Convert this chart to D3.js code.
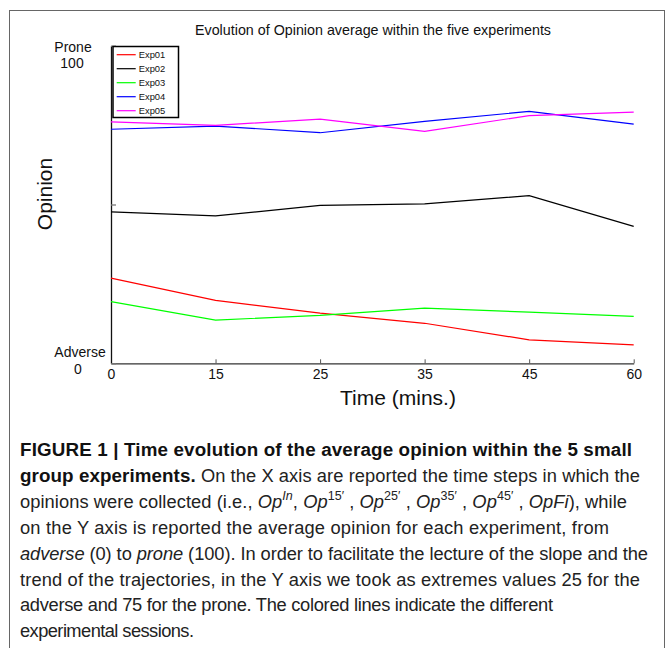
<!DOCTYPE html>
<html><head><meta charset="utf-8">
<script src="https://cdn.jsdelivr.net/npm/d3@7"></script>
<style>body{margin:0;background:#fff} svg{display:block}</style>
</head><body><svg id="c" width="667" height="648"></svg>
<script>
// ---- data ----
const times = ["0","15","25","35","45","60"];
const seriesNames = ["Exp01","Exp02","Exp03","Exp04","Exp05"];
const exp01 = [26.8,19.8,15.8,12.6,7.4,5.8];
const exp02 = [47.7,46.4,49.7,50.2,52.8,43.1];
const exp03 = [19.4,13.6,15.1,17.4,16.1,14.8];
const exp04 = [73.7,74.7,72.6,76.2,79.3,75.3];
const exp05 = [76.0,74.9,76.9,73.0,78.0,79.1];
const yTicks = [0,50,100];
const yTickWords = ["Adverse","","Prone"];
const yTickNums = ["0","","100"];
const seriesColors = ["#ff0000","#000000","#00ff00","#0000ff","#ff00ff"];

const allSeries = [exp01,exp02,exp03,exp04,exp05].map((v,i)=>({name:seriesNames[i],values:v,color:seriesColors[i]}));

const svg = d3.select("#c");
const FONT = "'Liberation Sans', Arial, Helvetica, sans-serif";

// outer frame
svg.append("rect").attr("x",9.5).attr("y",10.5).attr("width",655).attr("height",700)
  .attr("fill","none").attr("stroke","#666").attr("stroke-width",1);

const x = d3.scalePoint().domain(times).range([111, 633.7]);
const y = d3.scaleLinear().domain([0,100]).range([363.3, 45.7]);

// title
svg.append("text").attr("x",373).attr("y",35).attr("text-anchor","middle")
  .attr("font-family",FONT).attr("font-size",14.3).attr("fill","#111")
  .text("Evolution of Opinion average within the five experiments");

// x axis
const gx = svg.append("g").attr("transform",`translate(0,${y(0)})`)
  .call(d3.axisBottom(x).tickSizeInner(-4).tickSizeOuter(0).tickPadding(6));
gx.select(".domain").attr("stroke","#333").attr("stroke-width",1.3);
gx.selectAll(".tick line").attr("stroke","#555");
gx.selectAll(".tick text").attr("font-family",FONT).attr("font-size",14).attr("fill","#111");

// y axis
const gy = svg.append("g").attr("transform",`translate(${x("0")},0)`)
  .call(d3.axisLeft(y).tickValues(yTicks).tickSizeInner(-5).tickSizeOuter(0).tickFormat(""));
gy.select(".domain").attr("stroke","#111").attr("stroke-width",1.3);
gy.selectAll(".tick line").attr("stroke","#777").attr("stroke-width",1.3);

// y tick labels (word + number)
yTicks.forEach((t,i)=>{
  if(!yTickWords[i]) return;
  const top = t===100;
  svg.append("text").attr("x", top?73:80).attr("y", top? y(t)+6 : y(t)-6)
    .attr("text-anchor","middle").attr("font-family",FONT).attr("font-size",14).attr("fill","#111")
    .text(yTickWords[i]);
  svg.append("text").attr("x", top?72:78).attr("y", top? y(t)+22 : y(t)+11)
    .attr("text-anchor","middle").attr("font-family",FONT).attr("font-size",14).attr("fill","#111")
    .text(yTickNums[i]);
});

// axis titles
svg.append("text").attr("transform","translate(52,194) rotate(-90)").attr("text-anchor","middle")
  .attr("font-family",FONT).attr("font-size",21).attr("fill","#111").text("Opinion");
svg.append("text").attr("x",398).attr("y",405).attr("text-anchor","middle")
  .attr("font-family",FONT).attr("font-size",21).attr("fill","#111").text("Time (mins.)");

// lines
const line = d3.line().x((d,i)=>x(times[i])).y(d=>y(d));
svg.append("g").selectAll("path").data(allSeries).join("path")
  .attr("d",d=>line(d.values)).attr("fill","none").attr("stroke",d=>d.color).attr("stroke-width",1.2);

// legend
const lg = svg.append("g");
lg.append("rect").attr("x",113).attr("y",46.5).attr("width",65.5).attr("height",71)
  .attr("fill","#fff").attr("stroke","#000").attr("stroke-width",1.5);
allSeries.forEach((s,i)=>{
  const ly = 54.7 + 14*i;
  lg.append("line").attr("x1",116.7).attr("x2",135.7).attr("y1",ly).attr("y2",ly)
    .attr("stroke",s.color).attr("stroke-width",1.2);
  lg.append("text").attr("x",138.7).attr("y",ly+3.4).attr("font-family",FONT).attr("font-size",9.4)
    .attr("fill","#111").text(s.name);
});

// caption
const CF = 18.3;
const cap = svg.append("g").attr("font-family",FONT).attr("font-size",CF).attr("fill","#222");
const capX = 20, capY0 = 456, capDY = 25.9;
function capLine(i, endX, parts){
  const t = cap.append("text").attr("x",capX).attr("y",capY0+capDY*i);
  parts.forEach(p=>{
    const ts = t.append("tspan").text(p.t);
    if(p.b) ts.attr("font-weight","bold").attr("fill","#111").attr("font-size",18.8);
    if(p.i) ts.attr("font-style","italic");
    if(p.sup){ ts.attr("font-size",12.5).attr("dy",-8); }
    if(p.down){ ts.attr("dy",8); }
  });
  t.attr("textLength", endX-capX).attr("lengthAdjust","spacing");
}
capLine(0,632,[{t:"FIGURE 1 | Time evolution of the average opinion within the 5 small",b:1}]);
capLine(1,640,[{t:"group experiments.",b:1},{t:" On the X axis are reported the time steps in which the"}]);
capLine(2,627,[
  {t:"opinions were collected (i.e., "},{t:"Op",i:1},{t:"In",i:1,sup:1},{t:", ",down:1},
  {t:"Op",i:1},{t:"15′",sup:1},{t:" , ",down:1},
  {t:"Op",i:1},{t:"25′",sup:1},{t:" , ",down:1},
  {t:"Op",i:1},{t:"35′",sup:1},{t:" , ",down:1},
  {t:"Op",i:1},{t:"45′",sup:1},{t:" , ",down:1},
  {t:"OpFi",i:1},{t:"), while"}]);
capLine(3,609,[{t:"on the Y axis is reported the average opinion for each experiment, from"}]);
capLine(4,648,[{t:"adverse",i:1},{t:" (0) to "},{t:"prone",i:1},{t:" (100). In order to facilitate the lecture of the slope and the"}]);
capLine(5,640,[{t:"trend of the trajectories, in the Y axis we took as extremes values 25 for the"}]);
capLine(6,553,[{t:"adverse and 75 for the prone. The colored lines indicate the different"}]);
capLine(7,194,[{t:"experimental sessions."}]);
</script></body></html>
